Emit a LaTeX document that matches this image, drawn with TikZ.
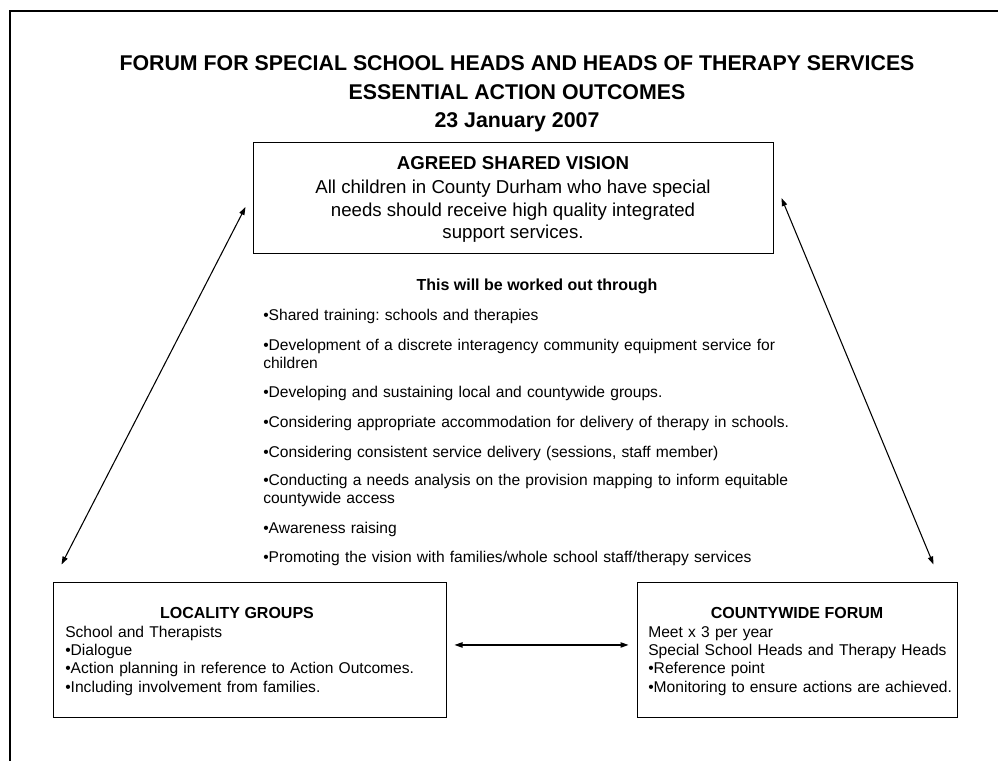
\documentclass[tikz,border=0pt]{standalone}
\usepackage{fontspec}
\setmainfont{Liberation Sans}
\frenchspacing
\usetikzlibrary{arrows.meta,positioning,calc}

\tikzset{
  panel/.style={draw, line width=0.75pt, inner sep=0pt},
  link/.style={line width=0.8pt, {Triangle[length=6pt,width=4pt]}-{Triangle[length=6pt,width=4pt]}},
  bodytext/.style={font=\fontsize{11.7}{13.75}\selectfont, inner sep=0pt, text width=420pt, align=left, anchor=base west},
  headtext/.style={font=\fontsize{12}{13.75}\selectfont\bfseries, inner sep=0pt, anchor=base},
}

\begin{document}
\begin{tikzpicture}[x=0.75pt, y=-0.75pt]
  \path[use as bounding box] (0,0) rectangle (998,760);
  % page frame, cut off at right and bottom
  \draw[line width=1.5pt] (10,772) -- (10,11) -- (1010,11);

  % the title sits on the baseline of its last line
  \node[font=\fontsize{16}{21.4}\selectfont\bfseries, align=center, inner sep=0pt, anchor=base] (title) at (517,127.6)
    {FORUM FOR SPECIAL SCHOOL HEADS AND HEADS OF THERAPY SERVICES\\ESSENTIAL ACTION OUTCOMES\\23 January 2007};

  \node[panel, minimum width=390pt, minimum height=83.25pt, font=\fontsize{14}{16.9}\selectfont, align=center] (vision) at (513,197.5)
    {\rule{0pt}{12.5pt}\textbf{AGREED SHARED VISION}\\[1.3pt]All children in County Durham who have special\\needs should receive high quality integrated\\support services.};

  % list under the vision
  \node[headtext] (through) at (537,290) {This will be worked out through};
  \node[bodytext] (item1) at (263,320) {•Shared training: schools and therapies};
  \node[bodytext] (item2) at (263,350) {•Development of a discrete interagency community equipment service for\\children};
  \node[bodytext] (item3) at (263,397) {•Developing and sustaining local and countywide groups.};
  \node[bodytext] (item4) at (263,427) {•Considering appropriate accommodation for delivery of therapy in schools.};
  \node[bodytext] (item5) at (263,457) {•Considering consistent service delivery (sessions, staff member)};
  \node[bodytext] (item6) at (263,485) {•Conducting a needs analysis on the provision mapping to inform equitable\\countywide access};
  \node[bodytext] (item7) at (263,533) {•Awareness raising};
  \node[bodytext] (item8) at (263,562) {•Promoting the vision with families/whole school staff/therapy services};

  % the two groups
  \node[panel, minimum width=294.75pt, minimum height=101.25pt] (locality) at (249.5,649.5) {};
  \node[headtext] (localityhead) at (237,618.7) {LOCALITY GROUPS};
  \node[bodytext] (localitybody) at (65,637)
    {School and Therapists\\•Dialogue\\•Action planning in reference to Action Outcomes.\\•Including involvement from families.};

  \node[panel, minimum width=240pt, minimum height=101.25pt] (countywide) at (797,649.5) {};
  \node[headtext] (countywidehead) at (797,618.7) {COUNTYWIDE FORUM};
  \node[bodytext] (countywidebody) at (648,637)
    {Meet x 3 per year\\Special School Heads and Therapy Heads\\•Reference point\\•Monitoring to ensure actions are achieved.};

  % arrows
  \draw[link] ([xshift=6pt,yshift=3.4pt]locality.east) -- ([xshift=-6pt,yshift=3.4pt]countywide.west);
  \draw[link] ([xshift=6.75pt,yshift=12.75pt]locality.north west) -- ([xshift=-5.25pt,yshift=-7.1pt]vision.west);
  \draw[link] ([xshift=-18pt,yshift=12.75pt]countywide.north east) -- ([xshift=6pt,yshift=-0.4pt]vision.east);
\end{tikzpicture}
\end{document}
